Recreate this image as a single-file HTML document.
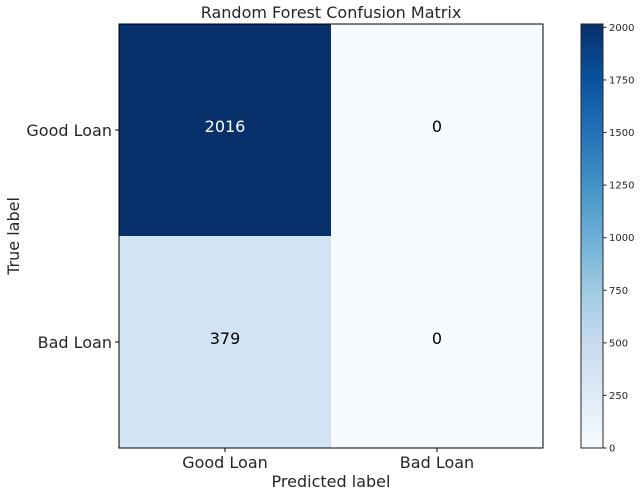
<!DOCTYPE html>
<html><head><meta charset="utf-8"><style>
body{margin:0;background:#fff;}
svg text{font-family:"DejaVu Sans","Liberation Sans",sans-serif;fill:#262626;}
</style></head><body>
<svg id="c" width="641" height="496" xmlns="http://www.w3.org/2000/svg">
<defs><linearGradient id="blues" x1="0" y1="1" x2="0" y2="0">
<stop offset="0" stop-color="#f7fbff"/><stop offset="0.125" stop-color="#deebf7"/><stop offset="0.25" stop-color="#c6dbef"/><stop offset="0.375" stop-color="#9ecae1"/><stop offset="0.5" stop-color="#6baed6"/><stop offset="0.625" stop-color="#4292c6"/><stop offset="0.75" stop-color="#2171b5"/><stop offset="0.875" stop-color="#08519c"/><stop offset="1" stop-color="#08306b"/>
</linearGradient></defs>
</svg>
<script>
const rows=["Good Loan","Bad Loan"];
const cols=["Good Loan","Bad Loan"];
const values=[[2016,0],[379,0]];
const cbTicks=[0,250,500,750,1000,1250,1500,1750,2000];
const NS="http://www.w3.org/2000/svg";
const svg=document.getElementById('c');
function el(t,a,p){const e=document.createElementNS(NS,t);for(const k in a)e.setAttribute(k,a[k]);(p||svg).appendChild(e);return e;}
const L=119,T=24,R=543,B=448;
const cw=(R-L)/cols.length,ch=(B-T)/rows.length;
const vmax=Math.max(...values.flat());
const stops=["#f7fbff","#deebf7","#c6dbef","#9ecae1","#6baed6","#4292c6","#2171b5","#08519c","#08306b"];
function hex(h){return [1,3,5].map(i=>parseInt(h.substr(i,2),16));}
function color(v){const t=v/vmax*(stops.length-1);const i=Math.min(Math.floor(t),stops.length-2);const f=t-i;const a=hex(stops[i]),b=hex(stops[i+1]);return `rgb(${a.map((x,j)=>Math.round(x+(b[j]-x)*f)).join(',')})`;}
const xs=j=>L+cw*j, ys=i=>T+ch*i;
for(let i=0;i<rows.length;i++)for(let j=0;j<cols.length;j++){
 const v=values[i][j];
 const r=el('rect',{x:xs(j),y:ys(i),width:cw,height:ch,fill:color(v)});
 
 
 const t=el('text',{x:xs(j)+cw/2,y:ys(i)+ch/2+2,'text-anchor':'middle','font-size':16});
 t.textContent=v;
 t.style.fill=v>vmax/2?'#fff':'#000';
 
 
}
const fr=el('rect',{x:L,y:T,width:R-L,height:B-T,fill:'none',stroke:'#000','stroke-width':1});


rows.forEach((r,i)=>{const y=ys(i)+ch/2;
 el('line',{x1:L-4,x2:L,y1:y,y2:y,stroke:'#000'});
 const t=el('text',{x:L-7,y:y+6,'text-anchor':'end','font-size':16});t.textContent=r;
 
 });
cols.forEach((c,j)=>{const x=xs(j)+cw/2;
 el('line',{x1:x,x2:x,y1:B,y2:B+4,stroke:'#000'});
 const t=el('text',{x:x,y:B+20,'text-anchor':'middle','font-size':16});t.textContent=c;
 
 });
let t=el('text',{x:(L+R)/2,y:18,'text-anchor':'middle','font-size':16});t.textContent='Random Forest Confusion Matrix';

t=el('text',{x:(L+R)/2,y:487,'text-anchor':'middle','font-size':16});t.textContent='Predicted label';

t=el('text',{x:0,y:0,'text-anchor':'middle','font-size':16,transform:`translate(19,${(T+B)/2}) rotate(-90)`});t.textContent='True label';

const CL=581,CR=603;
const cy=v=>B-(v/vmax)*(B-T);
const cb=el('rect',{x:CL,y:T,width:CR-CL,height:B-T,fill:'url(#blues)',stroke:'#262626','stroke-width':1});

cbTicks.forEach(v=>{const y=cy(v);
 el('line',{x1:CR,x2:CR+3.5,y1:y,y2:y,stroke:'#262626'});
 const tt=el('text',{x:CR+6,y:y+3.5,'font-size':10});tt.textContent=v;
 
 });
</script>
</body></html>
